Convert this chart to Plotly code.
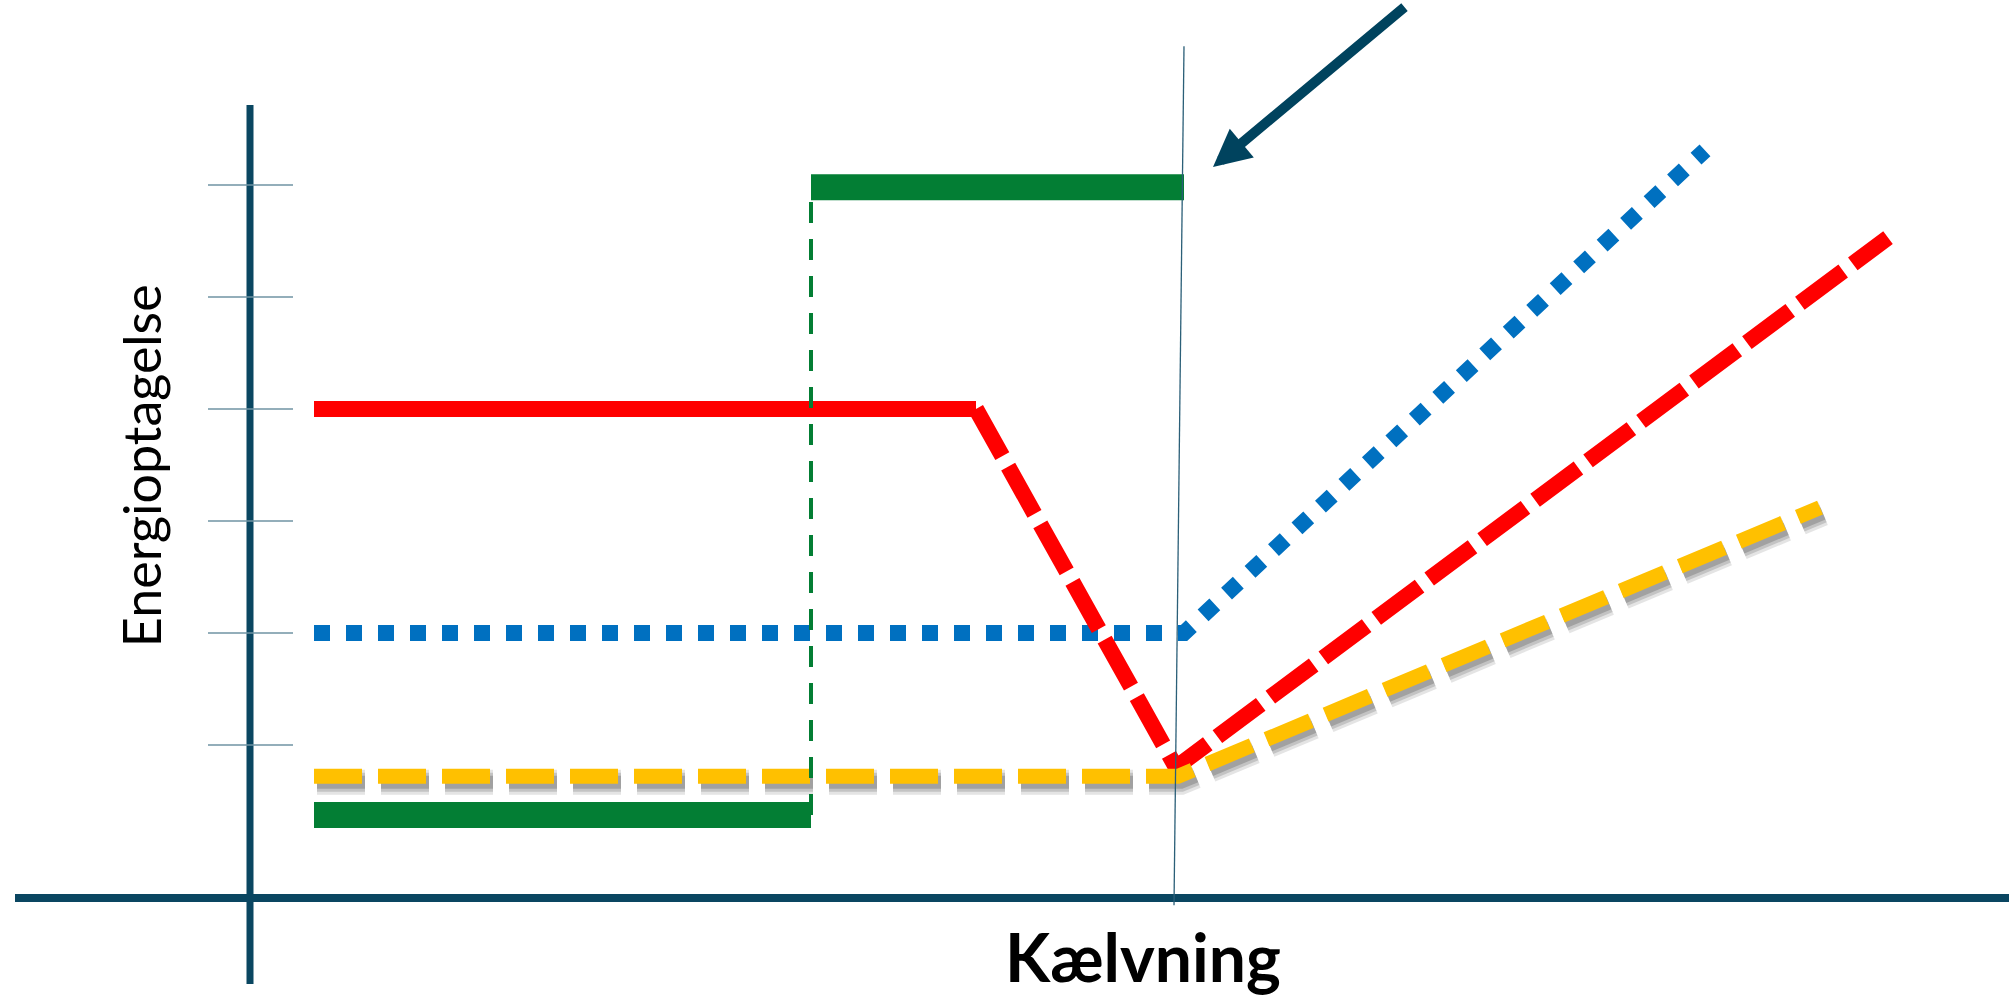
import plotly.graph_objects as go

# ---- data (x: time relative to calving, y: energy intake; arbitrary units) ----
X_START = -8.64
X_GREEN_STEP = -3.67
X_RED_KNEE = -2.02

green_low_x = [X_START, X_GREEN_STEP]
green_low_y = [0.375, 0.375]
green_step_x = [X_GREEN_STEP, X_GREEN_STEP]
green_step_y = [0.375, 5.98]
green_high_x = [X_GREEN_STEP, 0.06]
green_high_y = [5.98, 5.98]

red_flat_x = [X_START, X_RED_KNEE]
red_flat_y = [4.0, 4.0]
red_dash_x = [X_RED_KNEE, -0.02, 7.10]
red_dash_y = [4.0, 0.80, 5.53]

blue_x = [X_START, 0.06, 5.27]
blue_y = [2.0, 2.0, 6.31]

yellow_x = [X_START, 0.0, 6.42]
yellow_y = [0.72, 0.72, 3.12]

tick_values = [1, 2, 3, 4, 5, 6]

calving_line_x = [0.06, -0.04]
calving_line_y = [7.24, -0.43]
arrow_tip = (0.35, 6.16)
arrow_tail = (2.28, 7.60)

y_title = "Energioptagelse"
x_title = "Kælvning"

# ---- layout constants ----
X_RANGE = [-11.78, 8.31]
Y_RANGE = [-1.268, 7.652]
PX_PER_X = 2009 / (X_RANGE[1] - X_RANGE[0])
PX_PER_Y = 999 / (Y_RANGE[1] - Y_RANGE[0])
Y_AXIS_X = -9.28
Y_AXIS_SPAN = [-1.134, 6.714]
X_AXIS_Y = -0.366
X_AXIS_SPAN = [-11.63, 8.31]
TICK_SPAN = [-9.70, -8.85]

AXIS_COLOR = "#0a4661"
GREEN = "#037e34"
RED = "#ff0000"
BLUE = "#0070c0"
YELLOW = "#ffc000"

fig = go.Figure()

# layer 1 (x/y): blue and red
fig.add_trace(go.Scatter(x=blue_x, y=blue_y, mode="lines",
                         line=dict(color=BLUE, width=16, dash="dot")))
fig.add_trace(go.Scatter(x=red_flat_x, y=red_flat_y, mode="lines",
                         line=dict(color=RED, width=16)))
fig.add_trace(go.Scatter(x=red_dash_x, y=red_dash_y, mode="lines",
                         line=dict(color=RED, width=16, dash="54px,12px")))

# layer 2 (x2/y2, shifted a few pixels): soft shadow of the yellow line
sdx, sdy = 3 / PX_PER_X, 6 / PX_PER_Y
for w, c in [(25, "rgba(130,130,130,0.22)"), (19, "rgba(120,120,120,0.30)"), (13, "rgba(110,110,110,0.40)")]:
    fig.add_trace(go.Scatter(x=yellow_x, y=yellow_y, mode="lines", xaxis="x2", yaxis="y2",
                             line=dict(color=c, width=w, dash="48px,16px"), hoverinfo="skip"))

# layer 3 (x3/y3): yellow and green
fig.add_trace(go.Scatter(x=yellow_x, y=yellow_y, mode="lines", xaxis="x3", yaxis="y3",
                         line=dict(color=YELLOW, width=15, dash="48px,16px")))
fig.add_trace(go.Scatter(x=green_low_x, y=green_low_y, mode="lines", xaxis="x3", yaxis="y3",
                         line=dict(color=GREEN, width=26)))
fig.add_trace(go.Scatter(x=green_high_x, y=green_high_y, mode="lines", xaxis="x3", yaxis="y3",
                         line=dict(color=GREEN, width=26)))
fig.add_trace(go.Scatter(x=green_step_x, y=green_step_y, mode="lines", xaxis="x3", yaxis="y3",
                         line=dict(color=GREEN, width=4, dash="21px,16px")))

shapes = []
shapes.append(dict(type="line", xref="x", yref="y", x0=Y_AXIS_X, x1=Y_AXIS_X,
                   y0=Y_AXIS_SPAN[0], y1=Y_AXIS_SPAN[1], line=dict(color=AXIS_COLOR, width=7), layer="below"))
shapes.append(dict(type="line", xref="x", yref="y", x0=X_AXIS_SPAN[0], x1=X_AXIS_SPAN[1],
                   y0=X_AXIS_Y, y1=X_AXIS_Y, line=dict(color=AXIS_COLOR, width=8), layer="below"))
for t in tick_values:
    shapes.append(dict(type="line", xref="x", yref="y", x0=TICK_SPAN[0], x1=TICK_SPAN[1],
                       y0=t, y1=t, line=dict(color="#6f93a3", width=1.5), layer="below"))
shapes.append(dict(type="line", xref="x", yref="y", x0=calving_line_x[0], x1=calving_line_x[1],
                   y0=calving_line_y[0], y1=calving_line_y[1], line=dict(color="#2b5f78", width=1.3),
                   layer="above"))

annotations = [
    dict(x=arrow_tip[0], y=arrow_tip[1], ax=arrow_tail[0], ay=arrow_tail[1], xref="x", yref="y",
         axref="x", ayref="y", text="", showarrow=True, arrowhead=2, arrowwidth=10, arrowsize=0.75,
         arrowcolor="#00435e", standoff=0),
    dict(x=-10.37, y=3.49, xref="x", yref="y", text=y_title, textangle=-90, showarrow=False,
         xanchor="center", yanchor="middle", font=dict(family="Lato", size=52, color="#000000")),
    dict(x=-0.35, y=-0.89, xref="x", yref="y", text="<b>" + x_title + "</b>", showarrow=False,
         xanchor="center", yanchor="middle", font=dict(family="Lato", size=66, color="#000000")),
]

hidden = dict(visible=False, showgrid=False, zeroline=False)
fig.update_layout(
    width=2009, height=999, margin=dict(l=0, r=0, t=0, b=0, pad=0),
    paper_bgcolor="white", plot_bgcolor="white", showlegend=False,
    xaxis=dict(range=X_RANGE, **hidden),
    yaxis=dict(range=Y_RANGE, **hidden),
    xaxis2=dict(range=[X_RANGE[0] - sdx, X_RANGE[1] - sdx], overlaying="x", **hidden),
    yaxis2=dict(range=[Y_RANGE[0] + sdy, Y_RANGE[1] + sdy], overlaying="y", **hidden),
    xaxis3=dict(range=X_RANGE, overlaying="x", **hidden),
    yaxis3=dict(range=Y_RANGE, overlaying="y", **hidden),
    shapes=shapes, annotations=annotations,
)

fig.write_html("out.html", config={"displayModeBar": False},
               post_script="document.body.style.margin='0';document.body.style.overflow='hidden';")
